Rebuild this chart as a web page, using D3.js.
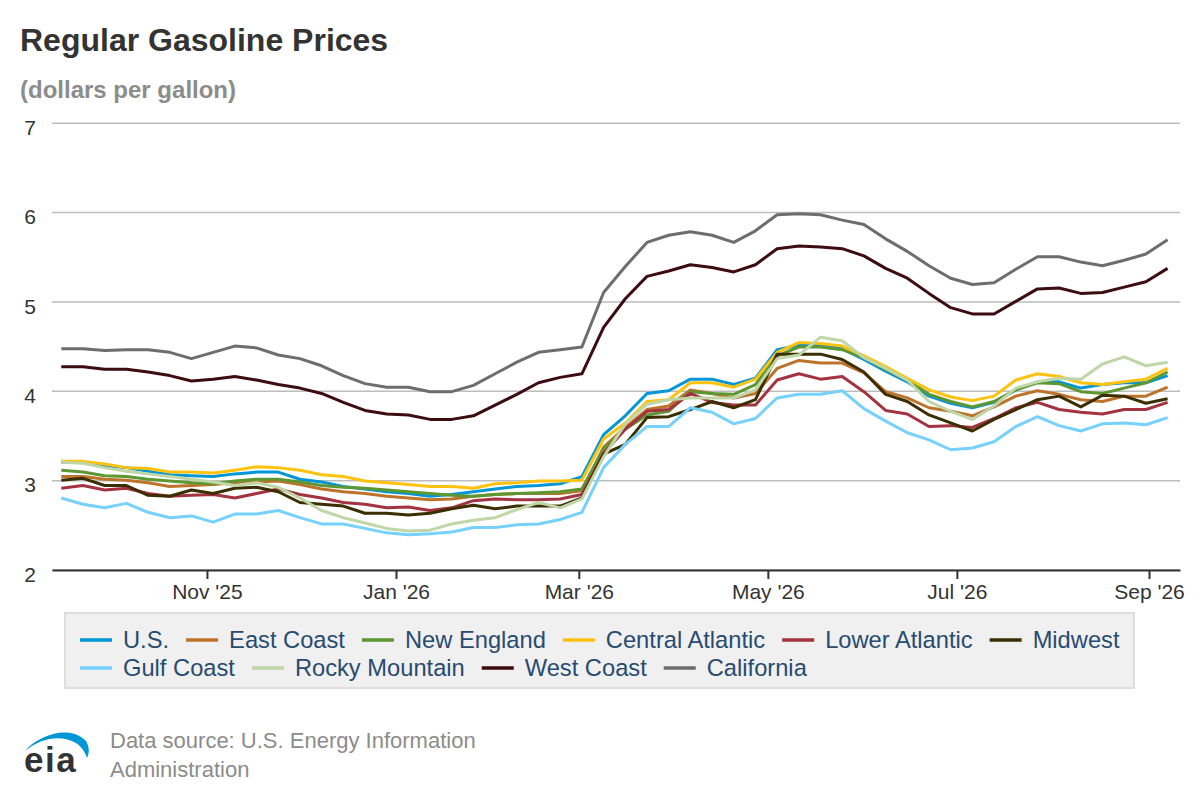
<!DOCTYPE html>
<html>
<head>
<meta charset="utf-8">
<script src="https://cdn.jsdelivr.net/npm/d3@7"></script>
<style>
    body { margin: 0; background: #fff; }
    svg text { font-family: "Liberation Sans", Arial, sans-serif; }
</style>
</head>
<body>
<svg id="chart" width="1200" height="800"></svg>
<script>
// weekly dates (Mondays)
var weeks = [
    "2025-09-15", "2025-09-22", "2025-09-29", "2025-10-06", "2025-10-13", "2025-10-20", "2025-10-27",
    "2025-11-03", "2025-11-10", "2025-11-17", "2025-11-24", "2025-12-01", "2025-12-08", "2025-12-15",
    "2025-12-22", "2025-12-29", "2026-01-05", "2026-01-12", "2026-01-19", "2026-01-26", "2026-02-02",
    "2026-02-09", "2026-02-16", "2026-02-23", "2026-03-02", "2026-03-09", "2026-03-16", "2026-03-23",
    "2026-03-30", "2026-04-06", "2026-04-13", "2026-04-20", "2026-04-27", "2026-05-04", "2026-05-11",
    "2026-05-18", "2026-05-25", "2026-06-01", "2026-06-08", "2026-06-15", "2026-06-22", "2026-06-29",
    "2026-07-06", "2026-07-13", "2026-07-20", "2026-07-27", "2026-08-03", "2026-08-10", "2026-08-17",
    "2026-08-24", "2026-08-31", "2026-09-07"
];

var usPrices = [3.20, 3.20, 3.16, 3.14, 3.10, 3.06, 3.05, 3.04, 3.07, 3.09, 3.09, 3.01, 2.98, 2.93,
    2.90, 2.87, 2.85, 2.82, 2.84, 2.87, 2.90, 2.93, 2.94, 2.96, 3.04,
    3.51, 3.72, 3.97, 4.00, 4.13, 4.13, 4.07, 4.14, 4.46, 4.51, 4.51, 4.47, 4.35,
    4.22, 4.10, 3.94, 3.86, 3.81, 3.87, 4.01, 4.10, 4.10, 4.03, 4.07, 4.09, 4.09, 4.17];
var eastCoast = [3.04, 3.04, 3.01, 3.00, 2.97, 2.93, 2.94, 2.95, 2.97, 2.98, 2.99, 2.95, 2.90, 2.87,
    2.85, 2.82, 2.80, 2.78, 2.79, 2.82, 2.84, 2.85, 2.85, 2.85, 2.88,
    3.37, 3.59, 3.79, 3.83, 4.01, 3.97, 3.92, 3.97, 4.25, 4.34, 4.31, 4.31, 4.20,
    3.99, 3.92, 3.81, 3.77, 3.72, 3.82, 3.94, 4.00, 3.96, 3.90, 3.88, 3.94, 3.94, 4.04];
var newEngland = [3.11, 3.09, 3.05, 3.04, 3.01, 2.99, 2.97, 2.96, 2.99, 3.01, 3.01, 2.98, 2.94, 2.92,
    2.91, 2.89, 2.87, 2.85, 2.83, 2.82, 2.84, 2.85, 2.86, 2.87, 2.90,
    3.35, 3.57, 3.73, 3.77, 3.99, 3.97, 3.96, 4.07, 4.39, 4.49, 4.49, 4.46, 4.37,
    4.24, 4.12, 3.96, 3.88, 3.82, 3.88, 4.01, 4.09, 4.08, 3.99, 3.97, 4.03, 4.09, 4.21];
var centralAtlantic = [3.21, 3.21, 3.18, 3.14, 3.13, 3.09, 3.09, 3.08, 3.11, 3.15, 3.14, 3.11, 3.06, 3.04,
    2.99, 2.97, 2.95, 2.93, 2.93, 2.91, 2.96, 2.97, 2.99, 2.99, 3.00,
    3.46, 3.64, 3.88, 3.90, 4.09, 4.09, 4.04, 4.13, 4.43, 4.54, 4.53, 4.50, 4.39,
    4.27, 4.14, 4.01, 3.93, 3.89, 3.94, 4.12, 4.19, 4.16, 4.09, 4.07, 4.10, 4.13, 4.25];
var lowerAtlantic = [2.91, 2.94, 2.89, 2.91, 2.85, 2.82, 2.83, 2.84, 2.80, 2.85, 2.90, 2.84, 2.80, 2.75,
    2.73, 2.69, 2.70, 2.66, 2.69, 2.77, 2.79, 2.78, 2.78, 2.79, 2.84,
    3.30, 3.57, 3.77, 3.79, 3.97, 3.87, 3.84, 3.84, 4.12, 4.19, 4.13, 4.16, 3.99,
    3.78, 3.74, 3.60, 3.61, 3.59, 3.69, 3.81, 3.87, 3.79, 3.76, 3.74, 3.79, 3.79, 3.87];
var midwest = [3.00, 3.02, 2.94, 2.94, 2.83, 2.82, 2.89, 2.85, 2.91, 2.92, 2.87, 2.75, 2.73, 2.71,
    2.63, 2.63, 2.61, 2.63, 2.68, 2.72, 2.68, 2.71, 2.71, 2.71, 2.80,
    3.29, 3.40, 3.70, 3.71, 3.79, 3.88, 3.81, 3.90, 4.41, 4.41, 4.41, 4.35, 4.21,
    3.96, 3.88, 3.73, 3.64, 3.55, 3.68, 3.79, 3.90, 3.94, 3.82, 3.95, 3.94, 3.86, 3.91];
var gulfCoast = [2.80, 2.73, 2.69, 2.74, 2.64, 2.58, 2.60, 2.53, 2.62, 2.62, 2.66, 2.58, 2.51, 2.51,
    2.46, 2.41, 2.39, 2.40, 2.42, 2.47, 2.47, 2.50, 2.51, 2.56, 2.64,
    3.14, 3.40, 3.60, 3.60, 3.81, 3.76, 3.63, 3.69, 3.92, 3.96, 3.96, 4.00, 3.80,
    3.66, 3.53, 3.45, 3.34, 3.36, 3.43, 3.60, 3.71, 3.61, 3.55, 3.63, 3.64, 3.62, 3.70];
var rockyMountain = [3.20, 3.19, 3.14, 3.10, 3.07, 3.04, 3.01, 2.98, 2.94, 2.97, 2.92, 2.80, 2.66, 2.58,
    2.52, 2.46, 2.43, 2.44, 2.51, 2.55, 2.58, 2.67, 2.75, 2.69, 2.79,
    3.26, 3.63, 3.85, 3.90, 3.92, 3.92, 3.92, 4.01, 4.36, 4.40, 4.60, 4.56, 4.37,
    4.25, 4.12, 3.88, 3.77, 3.68, 3.83, 4.03, 4.10, 4.14, 4.13, 4.30, 4.38, 4.28, 4.32];
var westCoast = [4.27, 4.27, 4.24, 4.24, 4.21, 4.17, 4.11, 4.13, 4.16, 4.12, 4.07, 4.03, 3.97, 3.87,
    3.78, 3.74, 3.73, 3.68, 3.68, 3.72, 3.84, 3.96, 4.09, 4.15, 4.19,
    4.71, 5.03, 5.28, 5.34, 5.41, 5.38, 5.33, 5.41, 5.59, 5.62, 5.61, 5.59, 5.51,
    5.37, 5.26, 5.09, 4.93, 4.86, 4.86, 5.00, 5.14, 5.15, 5.09, 5.10, 5.16, 5.22, 5.37];
var california = [4.47, 4.47, 4.45, 4.46, 4.46, 4.43, 4.36, 4.43, 4.50, 4.48, 4.40, 4.36, 4.28, 4.17,
    4.08, 4.04, 4.04, 3.99, 3.99, 4.06, 4.19, 4.32, 4.43, 4.46, 4.49,
    5.10, 5.39, 5.66, 5.74, 5.78, 5.74, 5.66, 5.79, 5.97, 5.98, 5.97, 5.91, 5.86,
    5.70, 5.56, 5.40, 5.26, 5.19, 5.21, 5.36, 5.50, 5.50, 5.44, 5.40, 5.46, 5.53, 5.69];

var seriesNames = ["U.S.", "East Coast", "New England", "Central Atlantic", "Lower Atlantic",
    "Midwest", "Gulf Coast", "Rocky Mountain", "West Coast", "California"];
var seriesValues = [usPrices, eastCoast, newEngland, centralAtlantic, lowerAtlantic,
    midwest, gulfCoast, rockyMountain, westCoast, california];
var seriesColors = ["#0096d7", "#bd732a", "#5d9732", "#ffc20e", "#a33340",
    "#3b2e00", "#76d1ff", "#bfd6a7", "#3d0c11", "#6d6d6d"];

var yTicks = [2, 3, 4, 5, 6, 7];
var xTicks = ["2025-11-01", "2026-01-01", "2026-03-01", "2026-05-01", "2026-07-01", "2026-09-01"];

var parseDate = d3.timeParse("%Y-%m-%d");
var svg = d3.select("#chart");

// title
svg.append("text")
    .attr("x", 20).attr("y", 51)
    .attr("font-size", 32).attr("font-weight", "bold").attr("fill", "#333")
    .text("Regular Gasoline Prices");
svg.append("text")
    .attr("x", 20).attr("y", 98)
    .attr("font-size", 24).attr("font-weight", "bold").attr("fill", "#8c8c8c")
    .text("(dollars per gallon)");

var x = d3.scaleTime()
    .domain([parseDate("2025-09-12"), parseDate("2026-09-11")])
    .range([52, 1180]);
var y = d3.scaleLinear().domain([2, 7]).range([569.5, 122.7]);

// gridlines + y labels
var yAxis = svg.append("g")
    .attr("transform", "translate(52,0)")
    .call(d3.axisLeft(y).tickValues(yTicks).tickSize(-1128).tickFormat(d3.format("d")));
yAxis.select(".domain").remove();
yAxis.selectAll(".tick line").attr("stroke", "#bdbdbd").attr("stroke-width", 1.5);
yAxis.selectAll(".tick text")
    .attr("x", -16).attr("dy", "0.85em").attr("y", -6)
    .attr("font-size", 21).attr("fill", "#333")
    .style("font-family", '"Liberation Sans", Arial, sans-serif');

// lines
var line = d3.line()
    .x((d, i) => x(parseDate(weeks[i])))
    .y((d) => y(d));

svg.append("g").selectAll("path")
    .data(seriesValues)
    .enter()
    .append("path")
    .attr("d", (d) => line(d))
    .attr("fill", "none")
    .attr("stroke", (d, i) => seriesColors[i])
    .attr("stroke-width", 3)
    .attr("stroke-linejoin", "round");

// x axis
var xAxis = svg.append("g")
    .attr("transform", "translate(0,570)")
    .call(d3.axisBottom(x)
        .tickValues(xTicks.map(parseDate))
        .tickSize(9)
        .tickSizeOuter(0)
        .tickFormat(d3.timeFormat("%b '%y")));
xAxis.select(".domain").attr("stroke", "#333").attr("stroke-width", 2);
xAxis.selectAll(".tick line").attr("stroke", "#333").attr("stroke-width", 2);
xAxis.selectAll(".tick text")
    .attr("y", 12).attr("dy", "0.8em")
    .attr("font-size", 21).attr("fill", "#333")
    .style("font-family", '"Liberation Sans", Arial, sans-serif');

// legend
var legend = svg.append("g");
legend.append("rect")
    .attr("x", 65).attr("y", 613)
    .attr("width", 1069).attr("height", 75)
    .attr("fill", "#f0f0f0").attr("stroke", "#dedede").attr("stroke-width", 2);

var rows = [[0, 1, 2, 3, 4, 5], [6, 7, 8, 9]];
var rowY = [640, 668];
rows.forEach(function (row, r) {
    var cx = 80;
    row.forEach(function (k) {
        legend.append("line")
            .attr("x1", cx).attr("x2", cx + 32)
            .attr("y1", rowY[r]).attr("y2", rowY[r])
            .attr("stroke", seriesColors[k]).attr("stroke-width", 3.5);
        var t = legend.append("text")
            .attr("x", cx + 43).attr("y", rowY[r] + 8)
            .attr("font-size", 23.7).attr("fill", "#284b70")
            .text(seriesNames[k]);
        cx = cx + 43 + t.node().getComputedTextLength() + 17;
    });
});

// footer logo
var logo = svg.append("g");
logo.append("path")
    .attr("d", "M25,751 C38,735 70,724 86,741 C89,746 90,752 87,758 C85,752 82,747 76,743 C62,735 42,737 25,751 Z")
    .attr("fill", "#0096d7");
logo.append("text")
    .attr("x", 24).attr("y", 772)
    .attr("font-size", 35).attr("font-weight", "bold").attr("fill", "#333")
    .attr("letter-spacing", 1.5)
    .text("eia");

svg.append("text")
    .attr("x", 110).attr("y", 748)
    .attr("font-size", 22).attr("fill", "#8c8c8c")
    .text("Data source: U.S. Energy Information");
svg.append("text")
    .attr("x", 110).attr("y", 777)
    .attr("font-size", 22).attr("fill", "#8c8c8c")
    .text("Administration");
</script>
</body>
</html>
